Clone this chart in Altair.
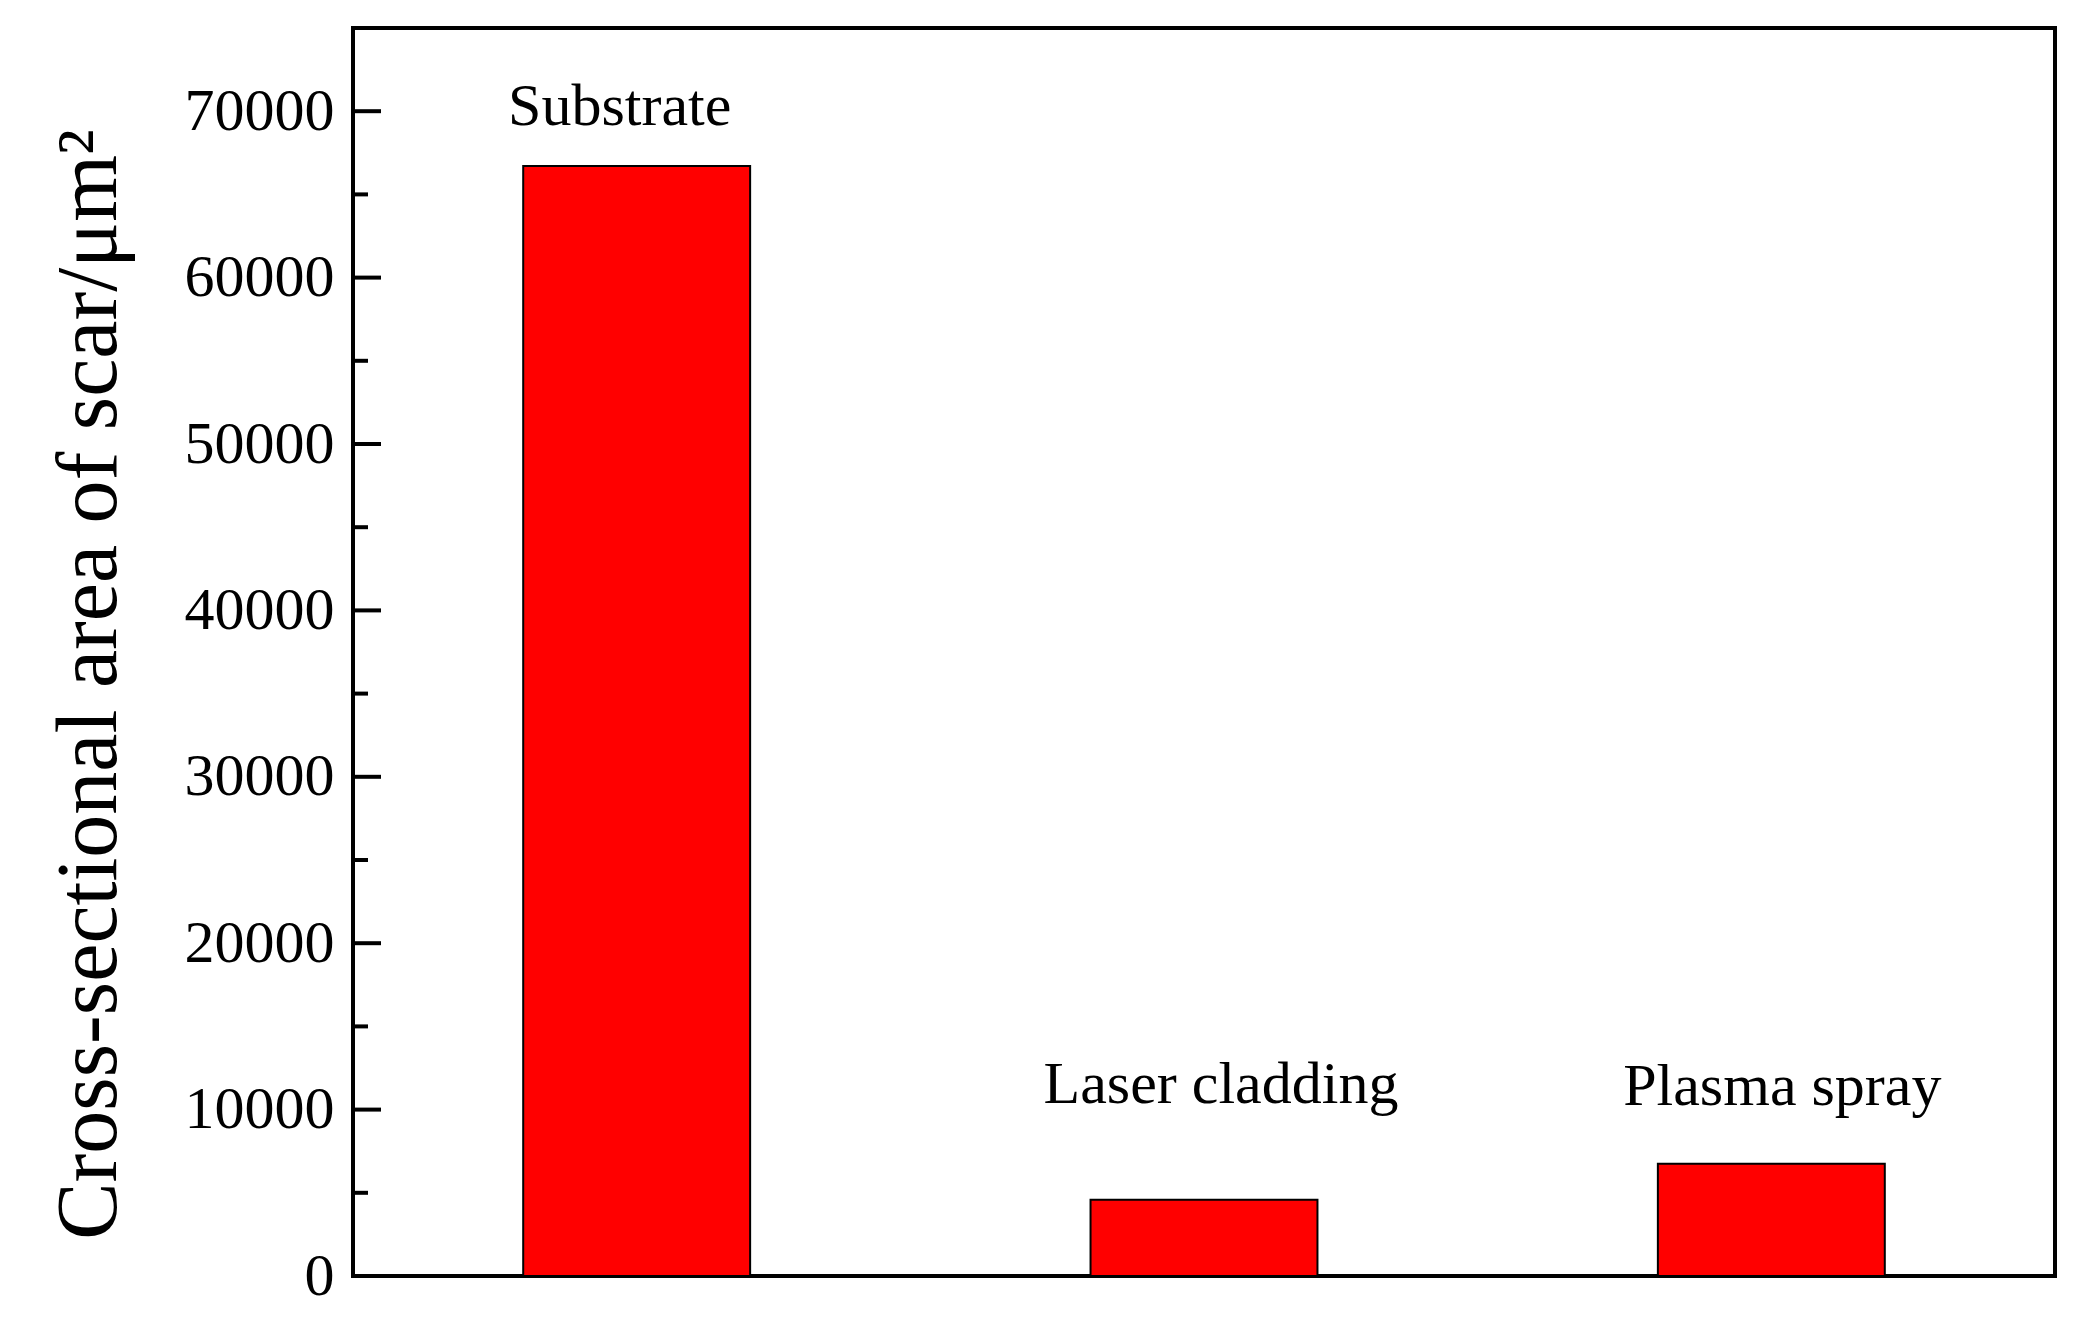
import pandas as pd
import altair as alt

categories = ["Substrate", "Laser cladding", "Plasma spray"]
values = [66700, 4580, 6750]

# where each label sits (baseline, in data units) and its sideways nudge
label_y = [69170, 10400, 10280]
label_dx = [-17, 17, 11]

major_ticks = [0, 10000, 20000, 30000, 40000, 50000, 60000, 70000]
minor_ticks = [5000, 15000, 25000, 35000, 45000, 55000, 65000]

FONT = 'Liberation Serif'
y_scale = alt.Scale(domain=[0, 75000], nice=False, zero=True)
x_scale = alt.Scale(paddingInner=0.6, paddingOuter=0.3)

y_axis = alt.Axis(values=major_ticks, format='d',
                  ticks=False, domain=False, grid=False,
                  labelFont=FONT, labelFontSize=60,
                  labelColor='black', labelPadding=19,
                  labelLimit=400,
                  title='Cross-sectional area of scar/\u03bcm\u00b2',
                  titleFont=FONT, titleFontSize=86,
                  titleFontWeight='normal', titleColor='black',
                  titleAngle=270, titleBaseline='alphabetic',
                  titleAlign='center',
                  titleX=-238, titleY=656)

df = pd.DataFrame({'cat': categories, 'value': values})
df_lab = pd.DataFrame({'cat': categories, 'value': label_y})
df_major = pd.DataFrame({'value': major_ticks[1:]})
df_minor = pd.DataFrame({'value': minor_ticks})

bars = alt.Chart(df).mark_bar(
    fill='#ff0000', stroke='black', strokeWidth=2
).encode(
    x=alt.X('cat:N', sort=categories, scale=x_scale, axis=None),
    y=alt.Y('value:Q', scale=y_scale, axis=y_axis)
)

texts = []
for i, c in enumerate(categories):
    texts.append(
        alt.Chart(df_lab[df_lab['cat'] == c]).mark_text(
            font=FONT, fontSize=60, color='black',
            baseline='alphabetic', align='center', dx=label_dx[i]
        ).encode(
            x=alt.X('cat:N', sort=categories, scale=x_scale, axis=None),
            y=alt.Y('value:Q', scale=y_scale, axis=y_axis),
            text='cat:N'
        )
    )

# inward ticks, drawn as short rules from the left frame
major = alt.Chart(df_major).mark_rule(color='black', strokeWidth=4).encode(
    y=alt.Y('value:Q', scale=y_scale, axis=y_axis),
    x=alt.value(0),
    x2=alt.value(28)
)

minor = alt.Chart(df_minor).mark_rule(color='black', strokeWidth=4).encode(
    y=alt.Y('value:Q', scale=y_scale, axis=y_axis),
    x=alt.value(0),
    x2=alt.value(15)
)

chart = alt.layer(bars, major, minor, *texts).properties(
    width=1702,
    height=1248,
    autosize=alt.AutoSizeParams(type='none'),
    padding={'left': 345, 'top': 20, 'right': 23, 'bottom': 41}
).configure(
    background='white'
).configure_view(
    stroke='black',
    strokeWidth=4
)

chart.save("out.html", embed_options={"renderer": "svg", "actions": False})
